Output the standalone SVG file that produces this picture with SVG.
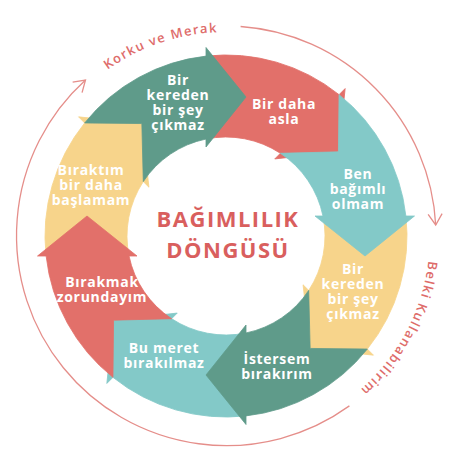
<svg xmlns="http://www.w3.org/2000/svg" xmlns:xlink="http://www.w3.org/1999/xlink" width="461" height="452" viewBox="0 0 461 452">
  <style>
    .green { fill: #5f9b8a; stroke: #5f9b8a; }
    .red { fill: #e2706a; stroke: #e2706a; }
    .teal { fill: #83c9c8; stroke: #83c9c8; }
    .yellow { fill: #f7d48b; stroke: #f7d48b; }
    .seg { stroke-width: 0.8; stroke-linejoin: miter; }
    .label { fill: #ffffff; font-family: "Open Sans", "DejaVu Sans", sans-serif; font-weight: 700; font-size: 14px; letter-spacing: 0.7px; text-anchor: middle; }
    .title { fill: #d95f5e; font-family: "Open Sans", "DejaVu Sans", sans-serif; font-weight: 700; font-size: 22px; letter-spacing: 1.5px; text-anchor: middle; }
    .curve { fill: #de6c6a; font-family: "Open Sans", "DejaVu Sans", sans-serif; font-weight: 600; font-size: 13px; letter-spacing: 1.4px; }
    .loop { fill: none; stroke: #e58e8a; stroke-width: 1.3; }
  </style>
  <defs>
    <!-- one ring segment with notched tail and arrowhead, head at 12 o'clock pointing clockwise -->
    <path id="segment" d="M -141.34 -113.06 A 181 181 0 0 1 -20 -179.89 L -20 -188.5 L 20 -139 L -20 -89 L -20 -96.96 A 99 99 0 0 0 -82.70 -54.42 L -84.15 -112.43 Z"/>
    <marker id="chevron" markerUnits="userSpaceOnUse" markerWidth="30" markerHeight="30" refX="0" refY="0" viewBox="-15 -15 30 30" orient="auto" overflow="visible">
      <path d="M -11 -7 L 0 0 L -11 7" fill="none" stroke="#e58e8a" stroke-width="1.3"/>
    </marker>
    <path id="arcTop" d="M 107.5 69.9 A 204 204 0 0 1 261.4 35.1"/>
    <path id="arcRight" d="M 428.5 260.9 A 204 204 0 0 1 328 412.7"/>
  </defs>

  <!-- outer loop arrows and their captions -->
  <g id="outer-loop">
    <path class="loop" d="M 240.6 26.5 A 210 210 0 0 1 435.7 225" marker-end="url(#chevron)"/>
    <path class="loop" d="M 349.4 405.9 A 210 210 0 0 1 85.5 80" marker-end="url(#chevron)"/>
    <text class="curve"><textPath href="#arcTop" xlink:href="#arcTop">Korku ve Merak</textPath></text>
    <text class="curve"><textPath href="#arcRight" xlink:href="#arcRight">Belki Kullanabilirim</textPath></text>
  </g>

  <!-- ring segments: the lower layer first, the upper layer on top -->
  <g id="node-bir-daha-asla">
    <use href="#segment" xlink:href="#segment" class="seg red" transform="translate(226 236) rotate(45)"/>
    <text class="label" x="284" y="108.5">Bir daha<tspan x="284" dy="15">asla</tspan></text>
  </g>
  <g id="node-bir-kereden-2">
    <use href="#segment" xlink:href="#segment" class="seg yellow" transform="translate(226 236) rotate(135)"/>
    <text class="label" x="353" y="273.5">Bir<tspan x="353" dy="15">kereden</tspan><tspan x="353" dy="15">bir şey</tspan><tspan x="353" dy="15">çıkmaz</tspan></text>
  </g>
  <g id="node-bu-meret">
    <use href="#segment" xlink:href="#segment" class="seg teal" transform="translate(226 236) rotate(225)"/>
    <text class="label" x="164" y="352.5">Bu meret<tspan x="164" dy="15">bırakılmaz</tspan></text>
  </g>
  <g id="node-biraktim">
    <use href="#segment" xlink:href="#segment" class="seg yellow" transform="translate(226 236) rotate(315)"/>
    <text class="label" x="91" y="175">Bıraktım<tspan x="91" dy="15">bir daha</tspan><tspan x="91" dy="15">başlamam</tspan></text>
  </g>
  <g id="node-bir-kereden-1">
    <use href="#segment" xlink:href="#segment" class="seg green" transform="translate(226 236)"/>
    <text class="label" x="178" y="84.5">Bir<tspan x="178" dy="15">kereden</tspan><tspan x="178" dy="15">bir şey</tspan><tspan x="178" dy="15">çıkmaz</tspan></text>
  </g>
  <g id="node-ben-bagimli">
    <use href="#segment" xlink:href="#segment" class="seg teal" transform="translate(226 236) rotate(90)"/>
    <text class="label" x="358" y="178.5">Ben<tspan x="358" dy="15">bağımlı</tspan><tspan x="358" dy="15">olmam</tspan></text>
  </g>
  <g id="node-istersem">
    <use href="#segment" xlink:href="#segment" class="seg green" transform="translate(226 236) rotate(180)"/>
    <text class="label" x="277" y="363.5">İstersem<tspan x="277" dy="15">bırakırım</tspan></text>
  </g>
  <g id="node-birakmak">
    <use href="#segment" xlink:href="#segment" class="seg red" transform="translate(226 236) rotate(270)"/>
    <text class="label" x="102" y="287">Bırakmak<tspan x="102" dy="14.5">zorundayım</tspan></text>
  </g>

  <!-- centre title -->
  <g id="title">
    <text class="title" x="228" y="227">BAĞIMLILIK</text>
    <text class="title" x="228" y="258">DÖNGÜSÜ</text>
  </g>
</svg>
